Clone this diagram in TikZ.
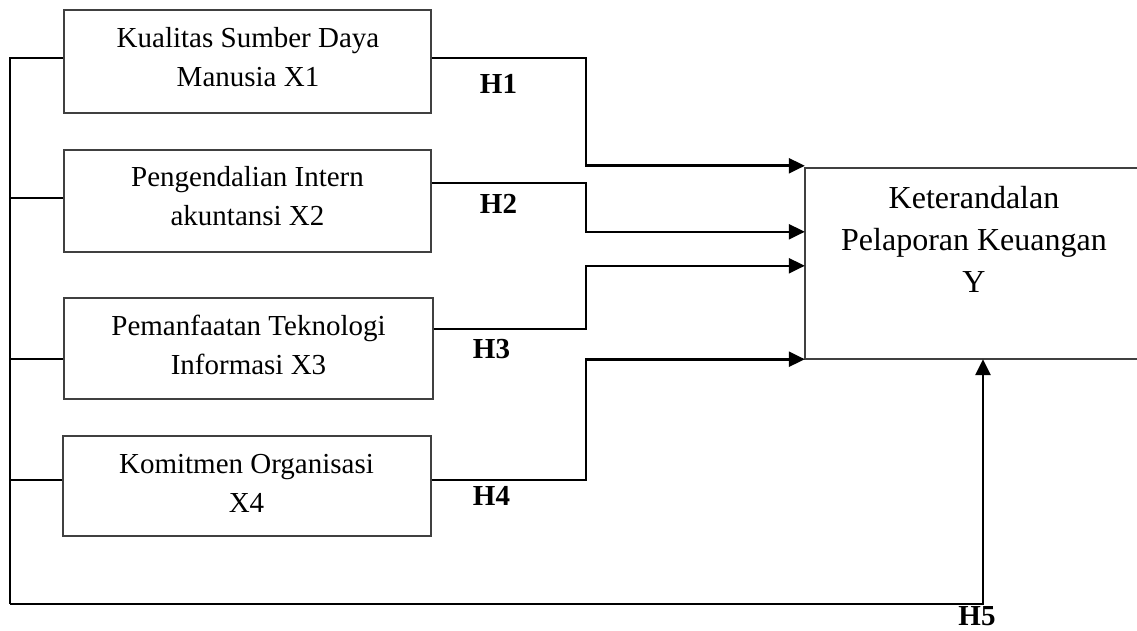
\documentclass[tikz,border=0pt]{standalone}
\usepackage{fontspec}
\setmainfont{Liberation Serif}
\usetikzlibrary{arrows.meta}
\definecolor{boxgray}{HTML}{404040}
\begin{document}
\begin{tikzpicture}[x=1pt,y=-1pt,
  boxnode/.style={draw=boxgray, line width=1.7pt, rectangle, inner sep=0pt},
  areanode/.style={rectangle, inner sep=0pt},
  txt/.style={font=\fontsize{29}{39}\selectfont, align=center, inner sep=0pt},
  ytxt/.style={font=\fontsize{32}{42}\selectfont, align=center, inner sep=0pt},
  hlab/.style={font=\fontsize{29}{35}\selectfont\bfseries, inner sep=0pt},
  conn/.style={draw=black, line width=2.6pt},
  arr/.style={conn, -{Triangle[length=16pt,width=15pt]}}]
\useasboundingbox (0,0) rectangle (1137,631);

% boxes
\node[boxnode, minimum width=367pt, minimum height=103pt] (X1) at (247.5,61.5) {};
\node[boxnode, minimum width=367pt, minimum height=102pt] (X2) at (247.5,201) {};
\node[boxnode, minimum width=369pt, minimum height=101pt] (X3) at (248.5,348.5) {};
\node[boxnode, minimum width=368pt, minimum height=100pt] (X4) at (247,486) {};
\node[areanode, minimum width=332pt, minimum height=191pt] (Y) at (971,263.5) {};
\draw[draw=boxgray, line width=1.7pt] (Y.north east) -- (Y.north west) -- (Y.south west) -- (Y.south east);

% texts
\node[txt] (t1) at (248,57) {Kualitas Sumber Daya\\Manusia X1};
\node[txt] (t2) at (247.5,196.5) {Pengendalian Intern\\akuntansi X2};
\node[txt] (t3) at (248.5,345) {Pemanfaatan Teknologi\\Informasi X3};
\node[txt] (t4) at (246.5,483) {Komitmen Organisasi\\X4};
\node[ytxt] (ty) at (974,239) {Keterandalan\\Pelaporan Keuangan\\Y};

% hypothesis labels
\node[hlab] (h1) at (498.5,84) {H1};
\node[hlab] (h2) at (498.5,204) {H2};
\node[hlab] (h3) at (491.5,349) {H3};
\node[hlab] (h4) at (491.5,496) {H4};
\node[hlab] (h5) at (977,616) {H5};

% connectors to Y
\draw[arr] ([yshift=3.5pt]X1.east) -- ++(154,0) |- ([yshift=2pt]Y.north west);
\draw[arr] ([yshift=18pt]X2.east) -- ++(154,0) |- ([yshift=-64pt]Y.north west);
\draw[arr] ([yshift=19.5pt]X3.east) -- ++(152,0) |- ([yshift=-98pt]Y.north west);
\draw[arr] ([yshift=6pt]X4.east) -- ++(154,0) |- (Y.south west);

% left trunk and H5
\coordinate (corner) at (10,604);
\draw[conn] ([yshift=3.5pt]X1.west) -| (corner);
\draw[conn] ([yshift=3pt]X2.west) -- ++(-54,0);
\draw[conn] ([yshift=-10.5pt]X3.west) -- ++(-54,0);
\draw[conn] ([yshift=6pt]X4.west) -- ++(-53,0);
\draw[arr] (corner) -| ([xshift=12pt]Y.south);
\end{tikzpicture}
\end{document}
